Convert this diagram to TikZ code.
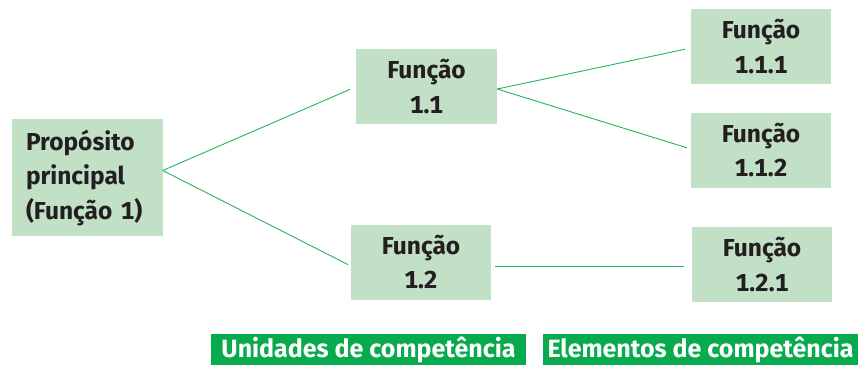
\documentclass[tikz,border=0pt]{standalone}
\usepackage{fontspec}
\setmainfont[Numbers=Monospaced]{Fira Sans}
\usetikzlibrary{positioning}
\definecolor{boxgreen}{RGB}{194,224,197}
\definecolor{linegreen}{RGB}{40,178,90}
\definecolor{taggreen}{RGB}{8,170,78}
\definecolor{ink}{RGB}{35,31,32}

\begin{document}
\begin{tikzpicture}[
  x=1pt, y=-1pt,
  box/.style  = {
    fill=boxgreen, text=ink,
    align=center,
    inner sep=0pt,
    minimum width=\boxw,
    minimum height=\boxh,
    font=\fontsize{24.5}{34.5}\selectfont\bfseries
  },
  link/.style = {draw=linegreen, line width=0.9pt},
  tag/.style  = {
    fill=taggreen, text=white,
    inner sep=0pt,
    minimum height=31pt,
    font=\fontsize{25}{30}\selectfont\bfseries
  }
]

% ---- constants ----
\def\boxw{140pt}     % width of the function boxes
\def\boxh{75pt}      % height of the function boxes

\useasboundingbox (0,0) rectangle (858,365);

% ---- nodes ----
\node[box, minimum width=151pt, minimum height=117pt,
      text width=122pt, align=left] (main) at (87,177.5)
  {Propósito\\principal\\(Função 1)};

\node[box, minimum width=141pt] (f11) at (426.5,86.5) {Função\\1.1};
\node[box] (f12) at (421,262) {Função\\1.2};

\node[box] (f111) at (761,46.5)  {Função\\1.1.1};
\node[box] (f112) at (761,150)   {Função\\1.1.2};
\node[box] (f121) at (762,264.5) {Função\\1.2.1};

\node[tag, minimum width=315pt] (units) at (368.5,349.5) {Unidades de competência};
\node[tag, minimum width=315pt] (elems) at (700.5,349.5) {Elementos de competência};

% ---- connectors ----
\draw[link, shorten >=1pt] ([yshift=7pt]main.east) -- ([yshift=-2.5pt,xshift=-5pt]f11.west);
\draw[link, shorten >=3pt] ([yshift=7pt]main.east) -- ([yshift=-4pt]f12.west);

\draw[link, shorten >=6pt] ([yshift=-2.5pt]f11.east) -- ([yshift=-1.5pt]f111.west);
\draw[link, shorten >=4pt] ([yshift=-2.5pt]f11.east) -- ([yshift=1pt]f112.west);

\draw[link, shorten <=4pt, shorten >=8pt]
  ([yshift=-4pt]f12.east) -- ([yshift=-4pt]f12.east -| f121.west);

\end{tikzpicture}
\end{document}
